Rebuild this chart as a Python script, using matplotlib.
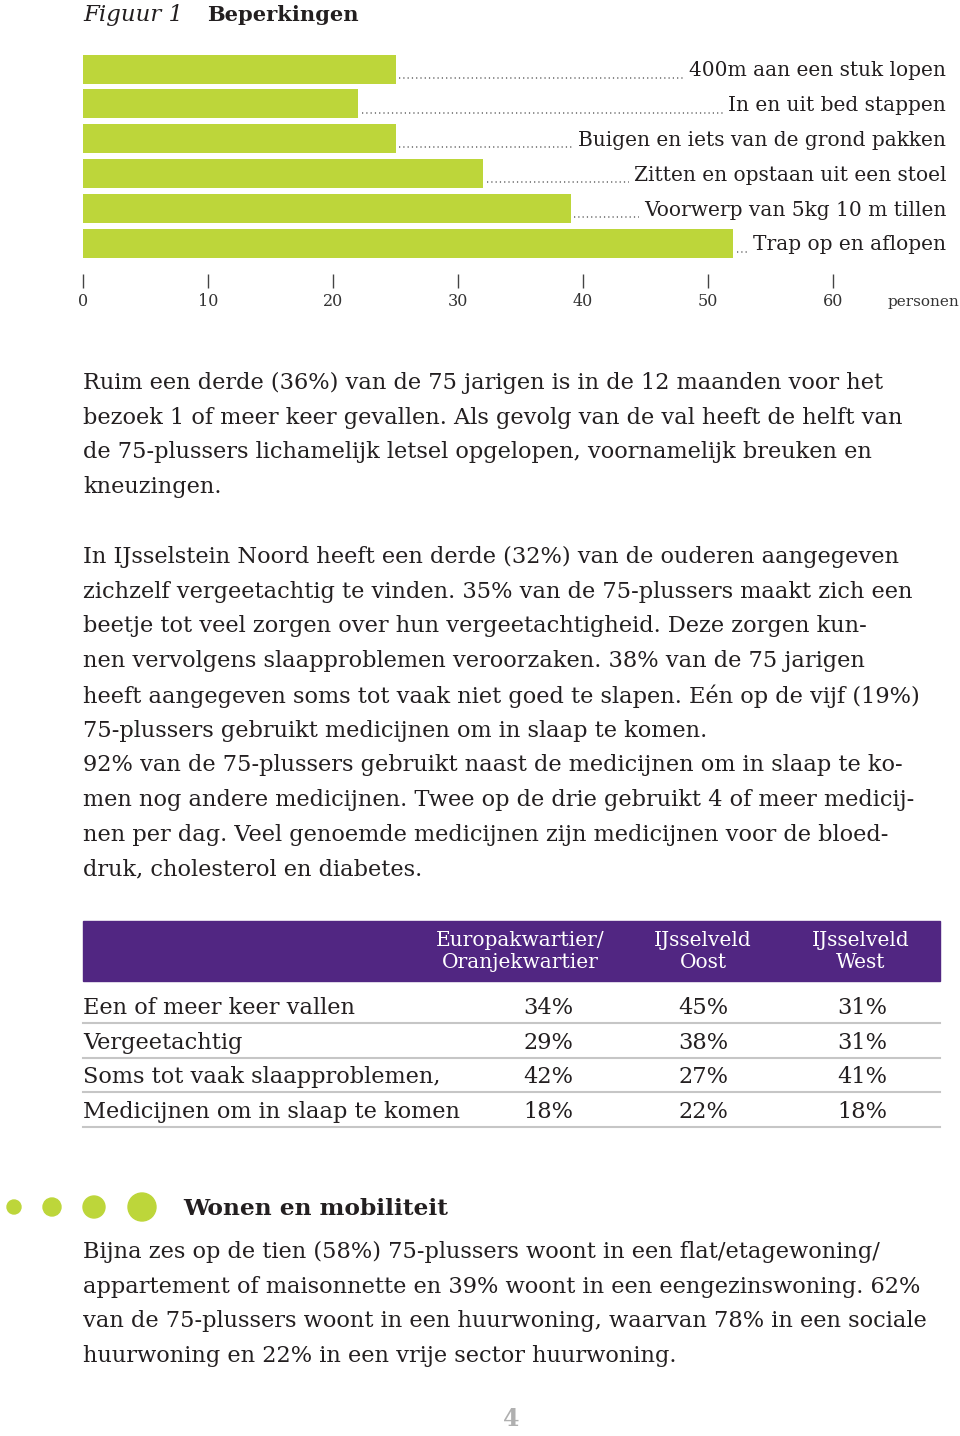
import matplotlib
matplotlib.use('Agg')
import matplotlib.pyplot as plt
import numpy as np
from matplotlib.patches import Rectangle, Ellipse
from matplotlib.lines import Line2D

# ---- data -----------------------------------------------------------------
categories = ['400m aan een stuk lopen', 'In en uit bed stappen',
              'Buigen en iets van de grond pakken', 'Zitten en opstaan uit een stoel',
              'Voorwerp van 5kg 10 m tillen', 'Trap op en aflopen']
personen = [25, 22, 25, 32, 39, 52]
x_ticks = [0, 10, 20, 30, 40, 50, 60]

para1 = ["Ruim een derde (36%) van de 75 jarigen is in de 12 maanden voor het",
         "bezoek 1 of meer keer gevallen. Als gevolg van de val heeft de helft van",
         "de 75-plussers lichamelijk letsel opgelopen, voornamelijk breuken en",
         "kneuzingen."]
para2 = ["In IJsselstein Noord heeft een derde (32%) van de ouderen aangegeven",
         "zichzelf vergeetachtig te vinden. 35% van de 75-plussers maakt zich een",
         "beetje tot veel zorgen over hun vergeetachtigheid. Deze zorgen kun-",
         "nen vervolgens slaapproblemen veroorzaken. 38% van de 75 jarigen",
         "heeft aangegeven soms tot vaak niet goed te slapen. Eén op de vijf (19%)",
         "75-plussers gebruikt medicijnen om in slaap te komen.",
         "92% van de 75-plussers gebruikt naast de medicijnen om in slaap te ko-",
         "men nog andere medicijnen. Twee op de drie gebruikt 4 of meer medicij-",
         "nen per dag. Veel genoemde medicijnen zijn medicijnen voor de bloed-",
         "druk, cholesterol en diabetes."]
para3 = ["Bijna zes op de tien (58%) 75-plussers woont in een flat/etagewoning/",
         "appartement of maisonnette en 39% woont in een eengezinswoning. 62%",
         "van de 75-plussers woont in een huurwoning, waarvan 78% in een sociale",
         "huurwoning en 22% in een vrije sector huurwoning."]

table_cols = ['Europakwartier/\nOranjekwartier', 'IJsselveld\nOost', 'IJsselveld\nWest']
table_rows = ['Een of meer keer vallen', 'Vergeetachtig',
              'Soms tot vaak slaapproblemen,', 'Medicijnen om in slaap te komen']
europa = ['34%', '29%', '42%', '18%']
ijssel_oost = ['45%', '38%', '27%', '22%']
ijssel_west = ['31%', '31%', '41%', '18%']

# ---- style ----------------------------------------------------------------
GREEN = '#bdd63a'
PURPLE = '#512682'
TXT = '#231f20'
W, H = 960, 1436
plt.rcParams['font.family'] = ['DejaVu Serif']

fig = plt.figure(figsize=(W / 100, H / 100), dpi=100)


def fx(x):
    return x / W


def fy(y):
    return 1 - y / H


def ptext(x, y, s, **kw):
    # y is the visual centre of the line; bbox centre sits a bit higher
    kw.setdefault('color', TXT)
    kw.setdefault('va', 'center')
    return fig.text(fx(x), fy(y + 2), s, **kw)


# title
ptext(83, 13, 'Figuur 1', fontsize=16.5, style='italic')
ptext(207, 13, 'Beperkingen', fontsize=15.1, fontweight='bold')

# ---- bar chart ------------------------------------------------------------
pitch = 34.8
ax = fig.add_axes([fx(83), fy(274), (W - 83) / W, (274 - 50) / H])
ypos = np.arange(len(categories))
ax.barh(ypos, personen, height=29 / pitch, color=GREEN, left=0)
ax.set_xlim(0, (W - 83) / 12.5)
ax.set_ylim((274 - 69) / pitch, (50 - 69) / pitch)
for s in ax.spines.values():
    s.set_visible(False)
ax.set_yticks([])
ax.set_xticks(x_ticks)
ax.tick_params(axis='x', length=10, width=1.0, color='#444444', pad=4,
               labelsize=11.5, labelcolor='#333333')
ax.patch.set_alpha(0)
ptext(888, 300, 'personen', fontsize=11, color='#333333')

label_texts = []
for i, c in enumerate(categories):
    yy = ax.transData.transform((0, i))[1] - 2
    t = fig.text(fx(946), yy / H, c, ha='right', va='center', fontsize=14.5, color=TXT)
    label_texts.append(t)

fig.canvas.draw()
r = fig.canvas.get_renderer()
inv = ax.transData.inverted()
for i, t in enumerate(label_texts):
    bb = t.get_window_extent(r)
    x_end = inv.transform((bb.x0 - 5, 0))[0]
    x_start = personen[i] + 0.3
    ax.plot([x_start, x_end], [i + 0.25, i + 0.25], color='#666666', lw=1.1,
            linestyle=(0, (0.8, 2.0)), clip_on=False)

# ---- body text ------------------------------------------------------------
BODY = 16.2
lh = 34.7
for k, line in enumerate(para1):
    ptext(83, 381 + k * lh, line, fontsize=BODY)
for k, line in enumerate(para2):
    ptext(83, 555 + k * lh, line, fontsize=BODY)

# ---- table ----------------------------------------------------------------
fig.patches.append(Rectangle((fx(83), fy(981)), (940 - 83) / W, 60 / H,
                             transform=fig.transFigure, color=PURPLE, zorder=0))
col_x = [548, 703, 862]
head_x = [520, 703, 861]
for hx, h in zip(head_x, table_cols):
    ptext(hx, 950, h, ha='center', fontsize=14.5, color='white', linespacing=1.2)
for k, lab in enumerate(table_rows):
    yy = 1006 + k * 34.7
    ptext(83, yy, lab, fontsize=BODY)
    for cx, vals in zip(col_x, [europa, ijssel_oost, ijssel_west]):
        ptext(cx, yy, vals[k], ha='center', fontsize=BODY)
    ly = fy(yy + 17)
    fig.lines.append(Line2D([fx(83), fx(940)], [ly, ly], transform=fig.transFigure,
                            color='#c6c6c6', lw=1.5))

# ---- section heading ------------------------------------------------------
for cx, rr in [(14, 7), (52, 9), (94, 11), (142, 14)]:
    fig.patches.append(Ellipse((fx(cx), fy(1207)), 2 * rr / W, 2 * rr / H,
                               transform=fig.transFigure, color=GREEN))
ptext(183, 1207, 'Wonen en mobiliteit', fontsize=16.8, fontweight='bold')

for k, line in enumerate(para3):
    ptext(83, 1250 + k * lh, line, fontsize=BODY)

ptext(511, 1417, '4', ha='center', fontsize=17, fontweight='bold', color='#b0b0b0')

fig.savefig('out.png', dpi=100)
